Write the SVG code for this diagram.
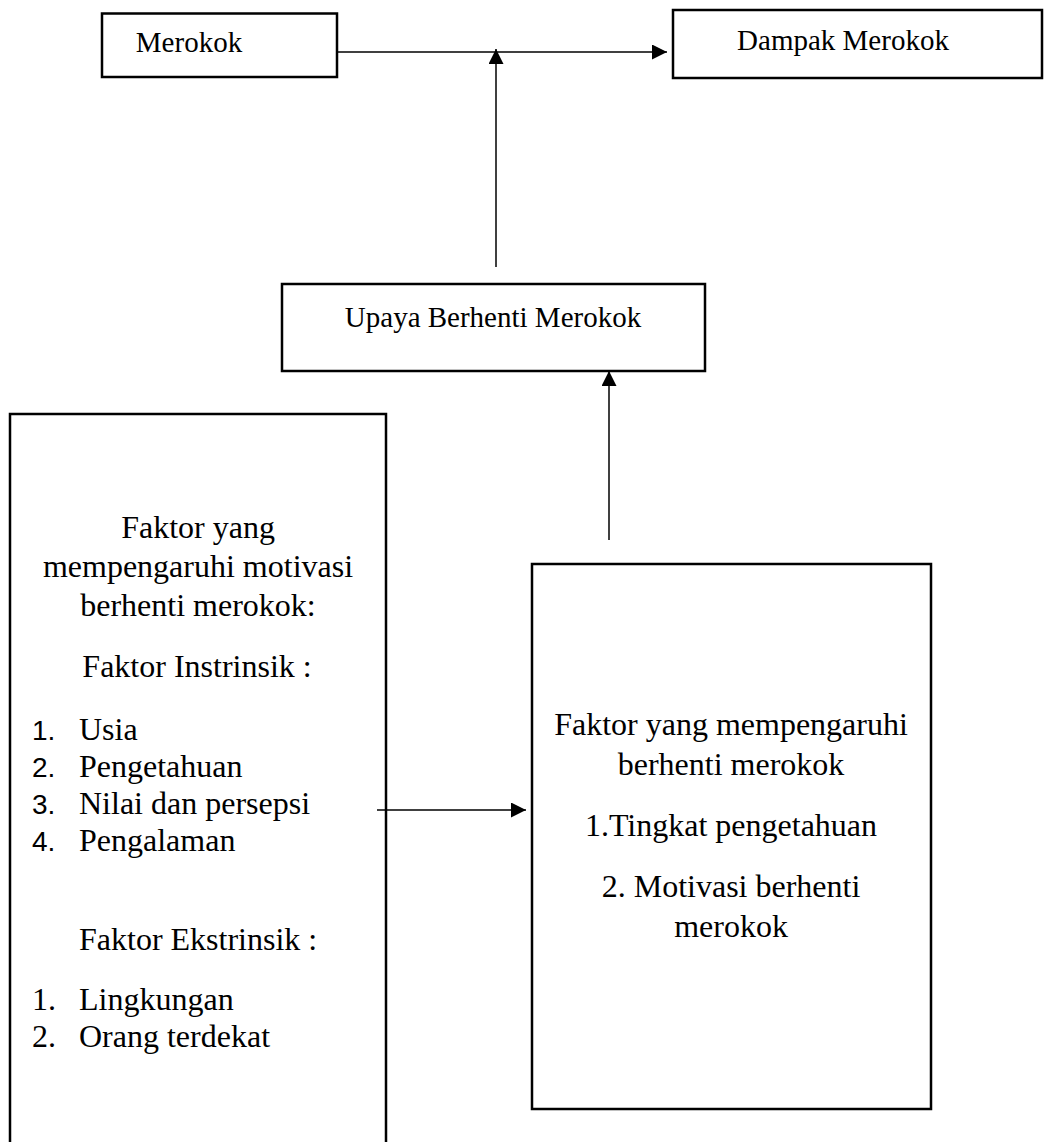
<svg xmlns="http://www.w3.org/2000/svg" width="1050" height="1142" viewBox="0 0 1050 1142">
<style>
.box{fill:#fff;stroke:#000;stroke-width:2.5}
.t{font-family:"Liberation Serif","Times New Roman",serif;fill:#000}
.s29{font-size:29px}
.s32{font-size:32px}
.c{text-anchor:middle}
.num{font-family:"Liberation Sans",Arial,sans-serif;font-size:28px;fill:#000}
.ln{stroke:#000;stroke-width:1.5;fill:none}
</style>
<defs>
<marker id="ah" viewBox="0 0 10 10" refX="10" refY="5" markerWidth="15" markerHeight="15" markerUnits="userSpaceOnUse" orient="auto">
<path d="M0,0 L10,5 L0,10 Z" fill="#000"/>
</marker>
</defs>
<rect width="1050" height="1142" fill="#fff"/>
<g id="merokok">
<rect class="box" x="102" y="13.5" width="235" height="63.5"/>
<text class="t s29 c" x="189" y="52">Merokok</text>
</g>
<g id="dampak">
<rect class="box" x="673" y="10" width="369" height="68"/>
<text class="t s29 c" x="843" y="50">Dampak Merokok</text>
</g>
<g id="upaya">
<rect class="box" x="282" y="284" width="423" height="87"/>
<text class="t s29 c" x="493" y="327">Upaya Berhenti Merokok</text>
</g>
<g id="faktor-motivasi">
<rect class="box" x="10" y="414" width="376" height="740"/>
<text class="t s32 c" x="198" y="538">Faktor yang</text>
<text class="t s32 c" x="198" y="577">mempengaruhi motivasi</text>
<text class="t s32 c" x="198" y="616">berhenti merokok:</text>
<text class="t s32 c" x="197" y="677">Faktor Instrinsik :</text>
<text class="num" x="32" y="740">1.</text>
<text class="t s32" x="79" y="740">Usia</text>
<text class="num" x="32" y="777">2.</text>
<text class="t s32" x="79" y="777">Pengetahuan</text>
<text class="num" x="32" y="814">3.</text>
<text class="t s32" x="79" y="814">Nilai dan persepsi</text>
<text class="num" x="32" y="851">4.</text>
<text class="t s32" x="79" y="851">Pengalaman</text>
<text class="t s32" x="79" y="950">Faktor Ekstrinsik :</text>
<text class="t s32" x="32" y="1010">1.</text>
<text class="t s32" x="79" y="1010">Lingkungan</text>
<text class="t s32" x="32" y="1047">2.</text>
<text class="t s32" x="79" y="1047">Orang terdekat</text>
</g>
<g id="faktor-berhenti">
<rect class="box" x="532" y="564" width="399" height="545"/>
<text class="t s32 c" x="731" y="735">Faktor yang mempengaruhi</text>
<text class="t s32 c" x="731" y="775">berhenti merokok</text>
<text class="t s32 c" x="731" y="836">1.Tingkat pengetahuan</text>
<text class="t s32 c" x="731" y="897">2. Motivasi berhenti</text>
<text class="t s32 c" x="731" y="937">merokok</text>
</g>
<g id="connectors">
<line class="ln" x1="337" y1="52" x2="667" y2="52" marker-end="url(#ah)"/>
<line class="ln" x1="496" y1="267" x2="496" y2="49" marker-end="url(#ah)"/>
<line class="ln" x1="609" y1="540" x2="609" y2="371" marker-end="url(#ah)"/>
<line class="ln" x1="377" y1="810" x2="526" y2="810" marker-end="url(#ah)"/>
</g>
</svg>
